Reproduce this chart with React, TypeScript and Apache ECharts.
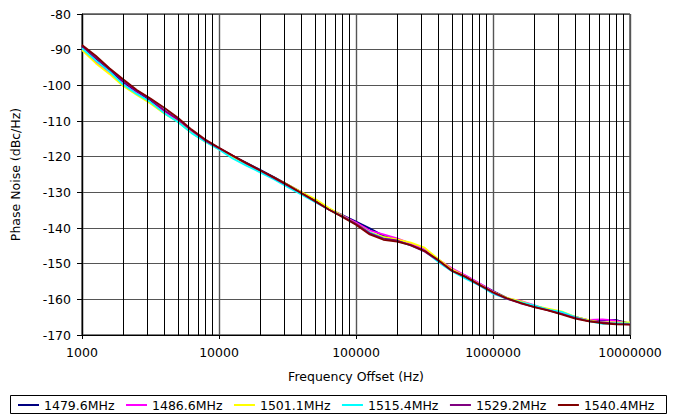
import React, { useEffect, useRef } from "react";
import * as echarts from "echarts";

const frequencies = [
  1000, 1259, 1585, 1995, 2512, 3162, 3981, 5012, 6310, 7943,
  10000, 12589, 15849, 19953, 25119, 31623, 39811, 50119, 63096, 79433,
  100000, 125893, 158489, 199526, 251189, 316228, 398107, 501187, 630957, 794328,
  1000000, 1258925, 1584893, 1995262, 2511886, 3162278, 3981072, 5011872, 6309573, 7943282,
  10000000,
];

const seriesNames = ["1479.6MHz", "1486.6MHz", "1501.1MHz", "1515.4MHz", "1529.2MHz", "1540.4MHz"];
const seriesColors = ["#000080", "#FF00FF", "#FFFF00", "#00FFFF", "#800080", "#800000"];

const s1479 = [
  -89.0, -92.4, -95.8, -99.0, -101.9, -104.3, -107.1, -109.7, -112.8, -115.5,
  -117.7, -119.8, -121.7, -123.7, -125.7, -127.8, -129.9, -132.2, -134.6, -136.4,
  -138.2, -140.1, -142.2, -143.3, -144.6, -146.4, -149.1, -151.6, -153.4, -155.6,
  -157.7, -159.6, -160.9, -161.8, -162.8, -163.9, -164.9, -165.9, -165.9, -165.8,
  -166.8,
];
const s1486 = [
  -89.9, -93.4, -96.3, -99.7, -102.2, -104.8, -107.5, -110.0, -113.1, -115.6,
  -117.7, -119.9, -121.9, -124.0, -126.1, -128.0, -130.0, -132.6, -134.6, -136.5,
  -138.5, -140.7, -141.8, -142.9, -144.4, -146.0, -148.8, -151.3, -153.3, -155.5,
  -157.8, -159.8, -160.4, -161.6, -163.0, -163.7, -165.2, -165.8, -165.6, -166.0,
  -167.0,
];
const s1501 = [
  -90.1, -93.8, -96.8, -100.2, -102.7, -105.1, -107.9, -110.2, -113.3, -115.8,
  -117.9, -120.0, -122.0, -124.0, -125.9, -127.8, -129.9, -131.8, -134.3, -136.6,
  -138.8, -141.2, -142.5, -143.2, -144.1, -145.5, -148.7, -151.6, -153.6, -155.8,
  -158.0, -159.6, -160.5, -161.8, -162.6, -163.4, -164.9, -165.8, -166.5, -166.5,
  -166.5,
];
const s1515 = [
  -89.6, -93.0, -96.1, -99.8, -102.4, -104.7, -107.8, -110.3, -113.4, -115.8,
  -118.0, -120.5, -122.5, -124.4, -126.3, -128.5, -130.6, -132.7, -134.8, -136.8,
  -139.0, -141.3, -142.9, -143.7, -144.9, -146.4, -149.5, -152.1, -154.2, -156.1,
  -158.4, -159.8, -160.8, -161.7, -162.9, -163.5, -165.0, -166.1, -166.9, -166.7,
  -166.8,
];
const s1529 = [
  -88.9, -92.3, -95.4, -98.8, -101.6, -104.0, -107.0, -109.5, -112.6, -115.5,
  -117.6, -119.7, -121.9, -123.9, -126.0, -128.1, -130.2, -132.5, -134.8, -136.7,
  -138.8, -141.5, -143.0, -143.5, -144.9, -146.6, -149.1, -152.0, -153.7, -156.0,
  -158.1, -159.8, -161.1, -162.1, -163.0, -164.1, -165.2, -166.1, -166.5, -166.9,
  -167.0,
];
const s1540 = [
  -88.7, -91.7, -95.2, -98.3, -101.3, -103.7, -106.3, -109.1, -112.4, -115.2,
  -117.5, -119.7, -121.8, -123.8, -125.8, -127.9, -130.2, -132.4, -134.8, -136.9,
  -139.1, -141.8, -143.3, -143.8, -144.8, -146.4, -149.0, -152.0, -153.7, -155.9,
  -158.0, -159.7, -161.0, -162.2, -163.1, -164.2, -165.4, -166.2, -166.7, -167.0,
  -167.1,
];

const seriesValues = [s1479, s1486, s1501, s1515, s1529, s1540];

const decades = [1000, 10000, 100000, 1000000];
const minorMultipliers = [2, 3, 4, 5, 6, 7, 8, 9];

const FONT = "DejaVu Sans";

export default function App() {
  const ref = useRef<HTMLDivElement>(null);

  useEffect(() => {
    if (!ref.current) return;
    const chart = echarts.init(ref.current, null, { renderer: "svg" });

    const minorLines: number[] = [];
    decades.forEach((d) => minorMultipliers.forEach((m) => minorLines.push(d * m)));

    const lineSeries = seriesNames.map((name, k) => ({
      type: "line",
      name,
      symbol: "none",
      showSymbol: false,
      smooth: false,
      z: 3,
      lineStyle: { color: seriesColors[k], width: 1.8 },
      itemStyle: { color: seriesColors[k] },
      data: frequencies.map((f, i) => [f, seriesValues[k][i]]),
    }));

    chart.setOption({
      animation: false,
      backgroundColor: "#ffffff",
      textStyle: { fontFamily: FONT },
      grid: {
        left: 82,
        right: 48,
        top: 14,
        bottom: 81,
        show: true,
        borderColor: "#000",
        borderWidth: 1,
        backgroundColor: "transparent",
      },
      xAxis: {
        type: "log",
        logBase: 10,
        min: 1000,
        max: 10000000,
        name: "Frequency Offset (Hz)",
        nameLocation: "middle",
        nameGap: 35,
        nameTextStyle: { fontSize: 12.5, color: "#000", fontFamily: FONT },
        axisLine: { show: true, onZero: false, lineStyle: { color: "#000", width: 1 } },
        axisTick: { show: true, length: 4, lineStyle: { color: "#000" } },
        axisLabel: {
          fontSize: 12.5,
          color: "#000",
          margin: 11,
          fontFamily: FONT,
          formatter: (v: number) => String(Math.round(v)),
        },
        splitLine: { show: true, lineStyle: { color: "#555", width: 1.4 } },
      },
      yAxis: {
        type: "value",
        min: -170,
        max: -80,
        interval: 10,
        name: "Phase Noise (dBc/Hz)",
        nameLocation: "middle",
        nameRotate: 90,
        nameGap: 60,
        nameTextStyle: { fontSize: 12.5, color: "#000", fontFamily: FONT },
        axisLine: { show: true, lineStyle: { color: "#000", width: 1 } },
        axisTick: { show: true, length: 5, lineStyle: { color: "#000" } },
        axisLabel: { fontSize: 12.5, color: "#000", margin: 11, fontFamily: FONT },
        splitLine: { show: true, lineStyle: { color: "#555", width: 1.2 } },
      },
      legend: {
        data: seriesNames,
        icon: "rect",
        left: 18,
        top: 398,
        padding: 0,
        itemGap: 11.5,
        itemWidth: 21,
        itemHeight: 2,
        textStyle: { fontSize: 12.5, color: "#000", fontFamily: FONT, lineHeight: 14 },
      },
      graphic: [
        {
          type: "rect",
          z: 0,
          shape: { x: 10.5, y: 395.5, width: 656, height: 18 },
          style: { fill: "#fff", stroke: "#000", lineWidth: 1 },
        },
      ],
      series: [
        {
          type: "line",
          name: "_grid",
          data: [],
          silent: true,
          z: 1,
          markLine: {
            silent: true,
            symbol: ["none", "none"],
            label: { show: false },
            emphasis: { disabled: true },
            lineStyle: { color: "#000", width: 1, type: "solid" },
            data: minorLines.map((v) => ({ xAxis: v })),
          },
        },
        ...lineSeries,
      ],
    });

    return () => chart.dispose();
  }, []);

  return (
    <div
      ref={ref}
      style={{ position: "fixed", left: 0, top: 0, width: 678, height: 416, background: "#fff" }}
    />
  );
}
